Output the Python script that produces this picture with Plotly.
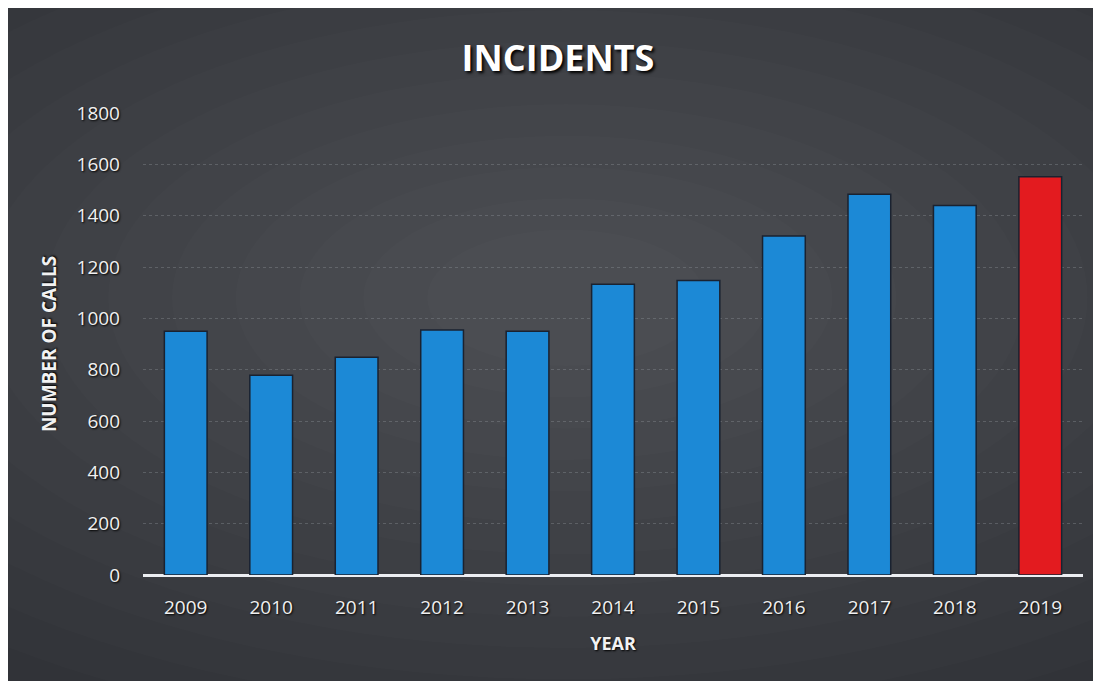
import plotly.graph_objects as go

years = ["2009", "2010", "2011", "2012", "2013", "2014", "2015", "2016", "2017", "2018", "2019"]
calls = [950, 778, 848, 955, 950, 1133, 1147, 1321, 1483, 1440, 1552]
bar_colors = ["#1c89d6"] * 10 + ["#e31b1f"]
y_ticks = [0, 200, 400, 600, 800, 1000, 1200, 1400, 1600, 1800]

W, H = 1093, 673          # page body adds an 8px white margin at top/left
L, R, T, B = 135, 18, 105, 106

fig = go.Figure()
fig.add_trace(go.Bar(
    x=years, y=calls,
    marker=dict(color=bar_colors, line=dict(color="#1a2230", width=1.5)),
    width=0.5,
))

font_family = "Open Sans, Lato, sans-serif"
shadow = "1px 1px 2px #000000"

# soft radial light in the middle of the dark slide
shapes = []
n = 14
cx, cy = 0.45, 0.6
for i in range(n):
    f = 1 - i / n
    r = 0.95 * f + 0.08
    shapes.append(dict(type="circle", xref="paper", yref="paper",
                       x0=cx - r, x1=cx + r, y0=cy - r, y1=cy + r,
                       fillcolor="rgba(255,255,255,0.012)", line=dict(width=0), layer="below"))

fig.update_layout(
    width=W, height=H,
    margin=dict(l=L, r=R, t=T, b=B),
    paper_bgcolor="#2f3136",
    plot_bgcolor="rgba(0,0,0,0)",
    showlegend=False,
    shapes=shapes,
    title=dict(text="<b>INCIDENTS</b>", x=(558 - 8) / W, xanchor="center",
               y=1 - (58 - 8) / H, yanchor="middle",
               font=dict(family=font_family, size=36, color="#ffffff", shadow="2px 2px 3px #000000")),
    xaxis=dict(
        title=dict(text="<b>YEAR</b>", font=dict(family=font_family, size=18, color="#f2f2f2", shadow=shadow), standoff=18),
        tickfont=dict(family=font_family, size=19, color="#f0f0f0", shadow=shadow),
        ticklabelstandoff=19,
        showgrid=False, showline=False, ticks="",
    ),
    yaxis=dict(
        title=dict(text="<b>NUMBER OF CALLS</b>", font=dict(family=font_family, size=19, color="#f2f2f2", shadow=shadow), standoff=14),
        tickfont=dict(family=font_family, size=19, color="#f0f0f0", shadow=shadow),
        ticklabelstandoff=22,
        range=[0, 1800], tickvals=y_ticks,
        showgrid=True, gridcolor="rgba(150,155,160,0.35)", gridwidth=1, griddash="dot",
        zeroline=True, zerolinecolor="#eceef2", zerolinewidth=3,
        ticks="", showline=False,
    ),
)

fig.write_html("out.html")
